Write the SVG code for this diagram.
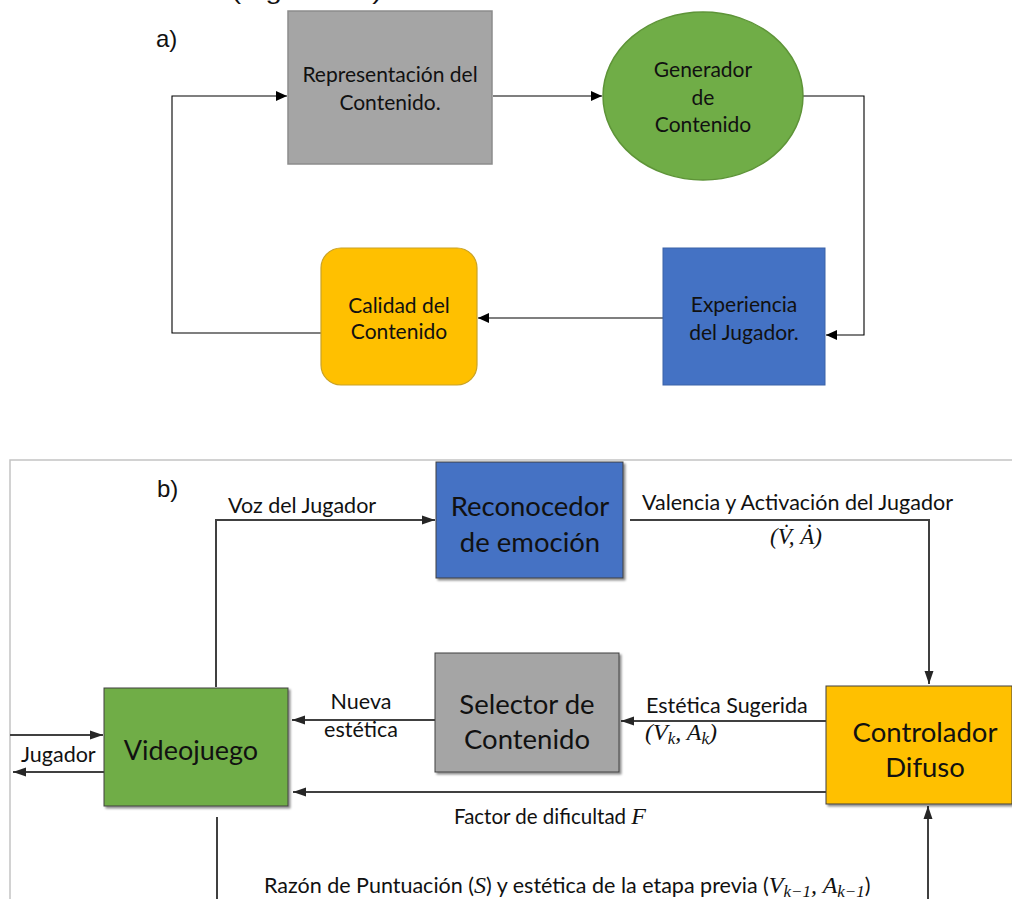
<svg xmlns="http://www.w3.org/2000/svg" width="1012" height="899" viewBox="0 0 1012 899">
  <defs>
    <marker id="arrA" markerUnits="userSpaceOnUse" markerWidth="12" markerHeight="10" refX="11" refY="5" orient="auto">
      <path d="M0,0 L11,5 L0,10 Z" fill="#000"/>
    </marker>
    <marker id="arrB" markerUnits="userSpaceOnUse" markerWidth="14" markerHeight="10" refX="13" refY="5" orient="auto">
      <path d="M0,0.5 L13,5 L0,9.5 Z" fill="#262626"/>
    </marker>
    <filter id="shadow" x="-10%" y="-10%" width="125%" height="125%">
      <feDropShadow dx="2" dy="2" stdDeviation="1.2" flood-color="#000" flood-opacity="0.45"/>
    </filter>
  </defs>
  <style>
    .lbl { font-family: Lato, "Open Sans", "Liberation Sans", sans-serif; fill: #111; }
    .a { font-size: 21px; text-anchor: middle; }
    .bn { font-size: 27.5px; text-anchor: middle; }
    .bl { font-size: 21.5px; }
    .math { font-family: "Liberation Serif", "DejaVu Serif", serif; font-style: italic; font-size: 23px; fill: #111; }
    .mbig { font-size: 24px; }
    .sub { font-size: 17px; }
    .ca { fill: none; stroke: #000; stroke-width: 1.1; }
    .cb { fill: none; stroke: #404040; stroke-width: 2; }
    .tag { font-family: "Liberation Sans", Arial, sans-serif; font-size: 24px; fill: #111; }
  </style>

  <rect width="1012" height="899" fill="#fff"/>

  <!-- running text above the figure, cut by the top edge -->
  <text class="tag" x="0" y="-1" textLength="390" lengthAdjust="spacingAndGlyphs">entorno simulado (Figura 1.1).</text>

  <!-- ===== a) content generation loop ===== -->
  <text class="tag" x="156" y="47">a)</text>

  <g id="a-connectors">
    <path class="ca" d="M321,333 H172 V96 H287" marker-end="url(#arrA)"/>
    <path class="ca" d="M493,96 H602" marker-end="url(#arrA)"/>
    <path class="ca" d="M803,96 H864 V335 H826" marker-end="url(#arrA)"/>
    <path class="ca" d="M663,318 H478" marker-end="url(#arrA)"/>
  </g>

  <g id="a-representacion">
    <rect x="288" y="11" width="204" height="153" fill="#A5A5A5" stroke="#8C8C8C" stroke-width="1.5"/>
    <text class="lbl a" x="390" y="82">Representación del</text>
    <text class="lbl a" x="390" y="110">Contenido.</text>
  </g>

  <g id="a-generador">
    <ellipse cx="703" cy="96" rx="100" ry="84" fill="#70AD47" stroke="#5E9438" stroke-width="1.5"/>
    <text class="lbl a" x="703" y="77">Generador</text>
    <text class="lbl a" x="703" y="105">de</text>
    <text class="lbl a" x="703" y="132">Contenido</text>
  </g>

  <g id="a-experiencia">
    <rect x="663" y="248" width="162" height="137" fill="#4472C4" stroke="#3A62A8" stroke-width="1"/>
    <text class="lbl a" x="744" y="312">Experiencia</text>
    <text class="lbl a" x="744" y="340">del Jugador.</text>
  </g>

  <g id="a-calidad">
    <rect x="321" y="248" width="156" height="137" rx="20" ry="20" fill="#FFC000" stroke="#C9A227" stroke-width="1.2"/>
    <text class="lbl a" x="399" y="313">Calidad del</text>
    <text class="lbl a" x="399" y="339">Contenido</text>
  </g>

  <!-- ===== b) affective adaptation system ===== -->
  <path d="M10,899 V460 H1012" fill="none" stroke="#C4C4C4" stroke-width="1.5"/>
  <text class="tag" x="157" y="497">b)</text>

  <g id="b-connectors">
    <path class="cb" d="M216,687 V520 H435" marker-end="url(#arrB)"/>
    <path class="cb" d="M630,520 H929 V684" marker-end="url(#arrB)"/>
    <path class="cb" d="M826,721 H621" marker-end="url(#arrB)"/>
    <path class="cb" d="M435,720 H292" marker-end="url(#arrB)"/>
    <path class="cb" d="M826,792 H293" marker-end="url(#arrB)"/>
    <path class="cb" d="M10,735 H103" marker-end="url(#arrB)"/>
    <path class="cb" d="M104,772 H13" marker-end="url(#arrB)"/>
    <path class="cb" d="M217,817 V899"/>
    <path class="cb" d="M928,899 V806" marker-end="url(#arrB)"/>

    <text class="lbl bl" x="228" y="513">Voz del Jugador</text>
    <text class="lbl bl" x="642" y="510">Valencia y Activación del Jugador</text>
    <text class="math" x="796" y="544" text-anchor="middle">(V&#x307;, A&#x307;)</text>
    <text class="lbl bl" x="361" y="709" text-anchor="middle">Nueva</text>
    <text class="lbl bl" x="361" y="737" text-anchor="middle">estética</text>
    <text class="lbl bl" x="646" y="713">Estética Sugerida</text>
    <text class="math mbig" x="645" y="740">(V<tspan class="sub" dy="4">k</tspan><tspan dy="-4">, A</tspan><tspan class="sub" dy="4">k</tspan><tspan dy="-4">)</tspan></text>
    <text class="lbl bl" x="21" y="762">Jugador</text>
    <text class="lbl" x="454" y="824" font-size="20.5">Factor de dificultad <tspan class="math mbig">F</tspan></text>
    <text class="lbl bl" x="264" y="893">Razón de Puntuación (<tspan class="math mbig">S</tspan>) y estética de la etapa previa (<tspan class="math mbig">V<tspan class="sub" dy="4">k−1</tspan><tspan dy="-4">, A</tspan><tspan class="sub" dy="4">k−1</tspan></tspan><tspan dy="-4">)</tspan></text>
  </g>

  <g id="b-reconocedor">
    <rect x="436" y="462" width="187" height="116" fill="#4472C4" stroke="#404040" stroke-width="1" filter="url(#shadow)"/>
    <text class="lbl bn" x="530" y="516">Reconocedor</text>
    <text class="lbl bn" x="530" y="552">de emoción</text>
  </g>

  <g id="b-videojuego">
    <rect x="104" y="688" width="184" height="118" fill="#70AD47" stroke="#404040" stroke-width="1" filter="url(#shadow)"/>
    <text class="lbl" x="191" y="760" font-size="27" text-anchor="middle">Videojuego</text>
  </g>

  <g id="b-selector">
    <rect x="435" y="653" width="184" height="119" fill="#A5A5A5" stroke="#404040" stroke-width="1" filter="url(#shadow)"/>
    <text class="lbl bn" x="527" y="714">Selector de</text>
    <text class="lbl bn" x="527" y="749">Contenido</text>
  </g>

  <g id="b-controlador">
    <rect x="826" y="686" width="186" height="118" fill="#FFC000" stroke="#404040" stroke-width="1" filter="url(#shadow)"/>
    <text class="lbl bn" x="925" y="742">Controlador</text>
    <text class="lbl bn" x="925" y="777">Difuso</text>
  </g>
</svg>
